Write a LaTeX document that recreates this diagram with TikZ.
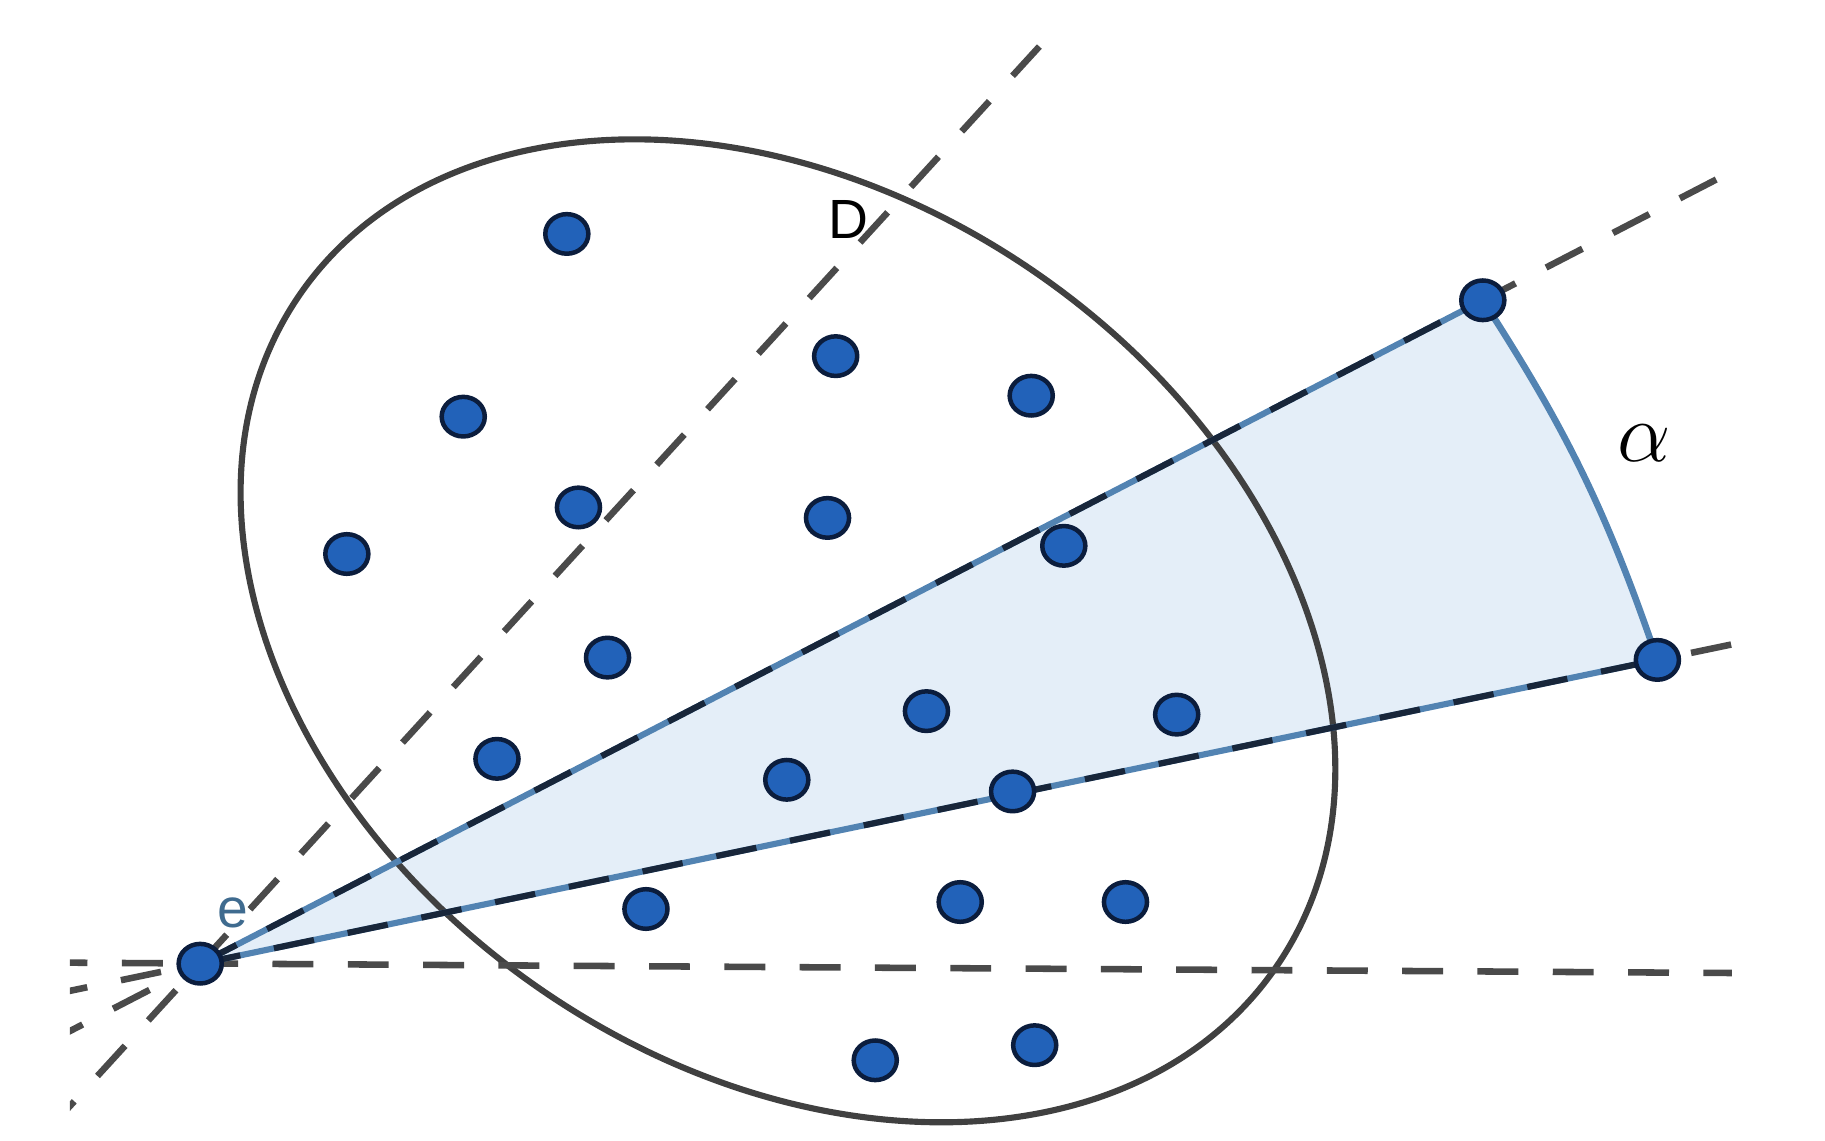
\documentclass[tikz,border=0pt]{standalone}
\usepackage{fontspec}
\setmainfont{Liberation Sans}
\usetikzlibrary{calc,shapes.geometric}
\definecolor{dotfill}{HTML}{2262B9}
\definecolor{dotline}{HTML}{0B1D3D}
\definecolor{secfill}{HTML}{E4EEF8}
\definecolor{rayblue}{HTML}{5283B2}
\definecolor{raydark}{HTML}{18263A}
\definecolor{dashgray}{HTML}{4A4A4A}
\definecolor{ellgray}{HTML}{404040}
\definecolor{elabel}{HTML}{3F6B8F}
\tikzset{
  pt/.style={ellipse, fill=dotfill, draw=dotline, line width=1.1pt, minimum width=0.37cm, minimum height=0.34cm, inner sep=0pt},
  dashline/.style={draw=dashgray, line width=1.6pt, dash pattern=on 10pt off 8.4pt},
  raysolid/.style={draw=rayblue, line width=1.5pt},
  raydash/.style={draw=raydark, line width=1.5pt, dash pattern=on 10pt off 8.4pt},
  ellstyle/.style={draw=ellgray, line width=1.5pt},
  lbl/.style={inner sep=0pt, font=\fontsize{13.5}{16}\selectfont}
}
\begin{document}
\begin{tikzpicture}[x=0.01cm, y=-0.01cm]
\useasboundingbox (0,0) rectangle (1568,980);
% key points
\coordinate (e) at (172,828);
\coordinate (p1) at (1274,258);
\coordinate (p2) at (1424,567);
\coordinate (dtop) at (893,40);
\coordinate (dbot) at ($(e)!-0.183!(dtop)$);
\coordinate (hl) at (40,827);
\coordinate (hr) at (1488,836);
\coordinate (u1) at ($(e)!-0.12!(p1)$);
\coordinate (u2) at ($(e)!1.182!(p1)$);
\coordinate (l1) at ($(e)!-0.105!(p2)$);
\coordinate (l2) at ($(e)!1.051!(p2)$);
% sector fill
\fill[secfill] (e) -- (p1) to[bend left=7] (p2) -- cycle;
% ellipse
\begin{scope}[shift={(677,542)}, rotate=-34.5]
  \draw[ellstyle] (0,0) ellipse [x radius=5.09cm, y radius=3.74cm];
\end{scope}
% dashed lines
\begin{scope}
  \clip (60,0) rectangle (1568,980);
  \draw[dashline] (hl) -- (hr);
  \draw[dashline] (dbot) -- (dtop);
  \draw[dashline] (u1) -- (e);
  \draw[dashline] (l1) -- (e);
\end{scope}
\draw[dashline, dash phase=1pt] (p1) -- (u2);
\draw[dashline, dash phase=10pt] (p2) -- (l2);
% sector rays and arc
\draw[raysolid] (e) -- (p1);
\draw[raysolid] (e) -- (p2);
\draw[raydash] (e) -- (p1);
\draw[raydash] (e) -- (p2);
\draw[draw=rayblue, line width=1.6pt] (p1) to[bend left=7] (p2);
% dots
\node[pt] (d1) at (487,201) {};
\node[pt] (d2) at (718,306) {};
\node[pt] (d3) at (398,358) {};
\node[pt] (d4) at (886,340) {};
\node[pt] (d5) at (497,436) {};
\node[pt] (d6) at (711,445) {};
\node[pt] (d7) at (298,476) {};
\node[pt] (d8) at (914,469) {};
\node[pt] (d9) at (522,565) {};
\node[pt] (d10) at (796,611) {};
\node[pt] (d11) at (1011,614) {};
\node[pt] (d12) at (427,652) {};
\node[pt] (d13) at (676,670) {};
\node[pt] (d14) at (870,680) {};
\node[pt] (d15) at (555,781) {};
\node[pt] (d16) at (825,775) {};
\node[pt] (d17) at (967,775) {};
\node[pt] (d18) at (752,911) {};
\node[pt] (d19) at (889,898) {};
\node[pt] (de) at (e) {};
\node[pt] (dp1) at (p1) {};
\node[pt] (dp2) at (p2) {};
% labels
\node[lbl] (labD) at (729,189) {D};
\node[lbl, text=elabel] (labe) at (200,784) {e};
\node[inner sep=0pt, font=\fontsize{20}{24}\selectfont] (laba) at (1413,381) {$\alpha$};
\end{tikzpicture}
\end{document}
